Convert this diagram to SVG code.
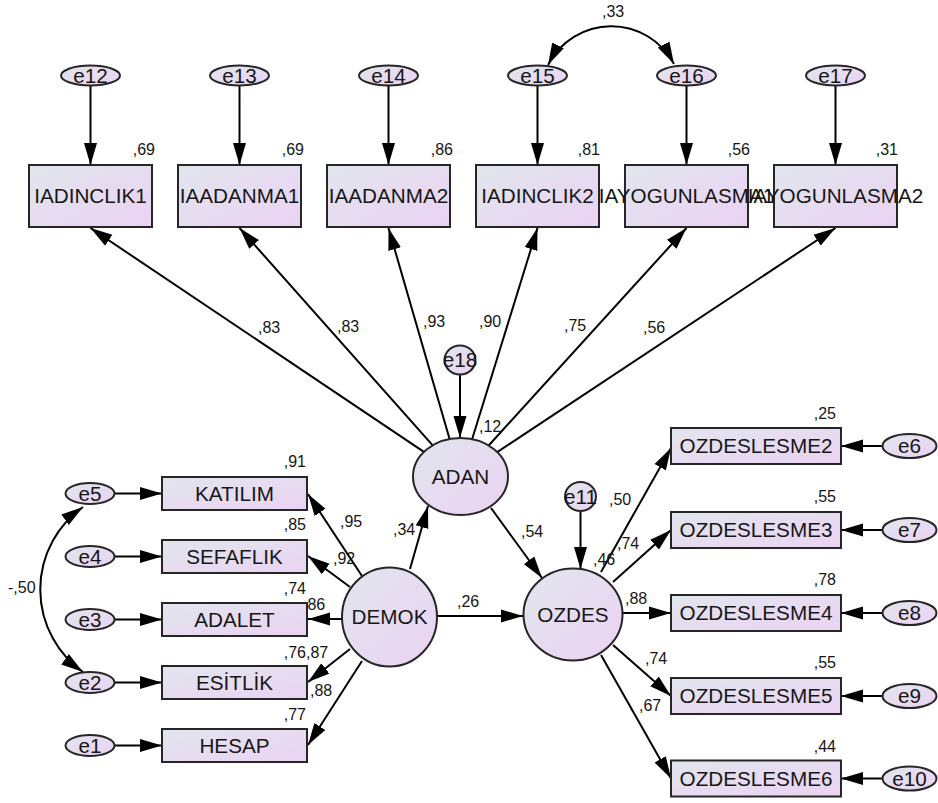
<svg xmlns="http://www.w3.org/2000/svg" width="938" height="803" viewBox="0 0 938 803">
<style>
.n{fill:url(#grad);stroke:#262626;stroke-width:2}
.t{font-family:"Liberation Sans",Arial,sans-serif;font-size:20.7px;fill:#161616;text-anchor:middle}
.l{font-family:"Liberation Sans",Arial,sans-serif;font-size:16px;fill:#161616}
.r{font-family:"Liberation Sans",Arial,sans-serif;font-size:16px;fill:#161616;text-anchor:end}
.c path{fill:none;stroke:#000;stroke-width:2;marker-end:url(#ah)}
.c path.d{marker-start:url(#ah)}
</style>
<defs>
<linearGradient id="grad" x1="0" y1="0" x2="1" y2="1">
<stop offset="0" stop-color="#e1e6ed"/>
<stop offset="1" stop-color="#ebd2f3"/>
</linearGradient>
<marker id="ah" markerUnits="userSpaceOnUse" markerWidth="23" markerHeight="14" refX="22" refY="7" orient="auto-start-reverse" viewBox="0 0 23 14">
<path d="M0,0.5 L22,7 L0,13.5 z" fill="#000"/>
</marker>
</defs>
<rect width="938" height="803" fill="#fff"/>

<g id="connectors" class="c">
<path d="M90.5 86 L90.5 165"/>
<path d="M239.5 86 L239.5 165"/>
<path d="M388.5 86 L388.5 165"/>
<path d="M537.5 86 L537.5 165"/>
<path d="M686.5 86 L686.5 165"/>
<path d="M835.5 86 L835.5 165"/>
<path class="d" d="M548 65 A71 71 0 0 1 674 64"/>
<path d="M423.9 451.9 L90.5 228"/>
<path d="M432.7 445.3 L239.5 228"/>
<path d="M449.6 439 L388.5 228"/>
<path d="M472.1 439.2 L537.5 228"/>
<path d="M488.7 445.5 L686.5 228"/>
<path d="M497.2 452.1 L835.5 228"/>
<path d="M460 375 L460 438"/>
<path d="M114.5 493.5 L162 493.5"/>
<path d="M114.5 556.5 L162 556.5"/>
<path d="M114.5 619.5 L162 619.5"/>
<path d="M114.5 682.5 L162 682.5"/>
<path d="M114.5 745.5 L162 745.5"/>
<path class="d" d="M83 507 A101 101 0 0 0 83 672"/>
<path d="M362 576 L308 494"/>
<path d="M350 587 L308 556"/>
<path d="M342 619 L308 619"/>
<path d="M350 649 L308 682"/>
<path d="M362 661 L308 745"/>
<path d="M410 569 L428 506"/>
<path d="M437 616 L523 616"/>
<path d="M491 508 L542 578"/>
<path d="M580.5 511 L580.5 569"/>
<path d="M601 572 L671 448"/>
<path d="M613 582 L671 530"/>
<path d="M623 613 L671 613"/>
<path d="M613 645 L671 696"/>
<path d="M601 655 L671 778.5"/>
<path d="M882 446 L841 446"/>
<path d="M882 530 L841 530"/>
<path d="M882 613 L841 613"/>
<path d="M882 696 L841 696"/>
<path d="M882 778.5 L841 778.5"/>
</g>

<g id="edge-labels">
<text class="l" x="602" y="17">,33</text>
<text class="l" x="258" y="333">,83</text>
<text class="l" x="337" y="332">,83</text>
<text class="l" x="423" y="327">,93</text>
<text class="l" x="479" y="327">,90</text>
<text class="l" x="564" y="331">,75</text>
<text class="l" x="643" y="333">,56</text>
<text class="l" x="479" y="432">,12</text>
<text class="l" x="340" y="527">,95</text>
<text class="l" x="333" y="564">,92</text>
<text class="l" x="303" y="610">,86</text>
<text class="l" x="306" y="658">,87</text>
<text class="l" x="310" y="696">,88</text>
<text class="l" x="393" y="535">,34</text>
<text class="l" x="457" y="607">,26</text>
<text class="l" x="8" y="593">-,50</text>
<text class="l" x="521" y="537">,54</text>
<text class="l" x="609" y="505">,50</text>
<text class="l" x="617" y="549">,74</text>
<text class="l" x="593" y="565">,46</text>
<text class="l" x="625" y="604">,88</text>
<text class="l" x="645" y="664">,74</text>
<text class="l" x="639" y="711">,67</text>
</g>

<g id="e12"><ellipse class="n" cx="90.5" cy="75.5" rx="29.5" ry="10"/><text class="t" x="90.5" y="82.5">e12</text></g>
<g id="e13"><ellipse class="n" cx="239.5" cy="75.5" rx="29.5" ry="10"/><text class="t" x="239.5" y="82.5">e13</text></g>
<g id="e14"><ellipse class="n" cx="388.5" cy="75.5" rx="29.5" ry="10"/><text class="t" x="388.5" y="82.5">e14</text></g>
<g id="e15"><ellipse class="n" cx="537.5" cy="75.5" rx="29.5" ry="10"/><text class="t" x="537.5" y="82.5">e15</text></g>
<g id="e16"><ellipse class="n" cx="686.5" cy="75.5" rx="29.5" ry="10"/><text class="t" x="686.5" y="82.5">e16</text></g>
<g id="e17"><ellipse class="n" cx="835.5" cy="75.5" rx="29.5" ry="10"/><text class="t" x="835.5" y="82.5">e17</text></g>

<g id="IADINCLIK1"><rect class="n" x="29" y="165" width="123" height="62"/><text class="t" x="90.5" y="203">IADINCLIK1</text><text class="r" x="155" y="155">,69</text></g>
<g id="IAADANMA1"><rect class="n" x="178" y="165" width="123" height="62"/><text class="t" x="239.5" y="203">IAADANMA1</text><text class="r" x="304" y="155">,69</text></g>
<g id="IAADANMA2"><rect class="n" x="327" y="165" width="123" height="62"/><text class="t" x="388.5" y="203">IAADANMA2</text><text class="r" x="453" y="155">,86</text></g>
<g id="IADINCLIK2"><rect class="n" x="476" y="165" width="123" height="62"/><text class="t" x="537.5" y="203">IADINCLIK2</text><text class="r" x="600" y="155">,81</text></g>
<g id="IAYOGUNLASMA1"><rect class="n" x="625" y="165" width="123" height="62"/><text class="t" x="686.5" y="203">IAYOGUNLASMA1</text><text class="r" x="750" y="155">,56</text></g>
<g id="IAYOGUNLASMA2"><rect class="n" x="774" y="165" width="123" height="62"/><text class="t" x="835.5" y="203">IAYOGUNLASMA2</text><text class="r" x="898" y="155">,31</text></g>

<g id="e18"><ellipse class="n" cx="460" cy="360" rx="15.5" ry="14.5"/><text class="t" x="460" y="367">e18</text></g>
<g id="ADAN"><ellipse class="n" cx="460.5" cy="476.5" rx="47.5" ry="38.5"/><text class="t" x="460.5" y="483.5">ADAN</text></g>
<g id="DEMOK"><ellipse class="n" cx="389.5" cy="617" rx="47.5" ry="49.5"/><text class="t" x="389.5" y="624">DEMOK</text></g>
<g id="e11"><ellipse class="n" cx="580.5" cy="496.5" rx="15.5" ry="14.5"/><text class="t" x="580.5" y="503.5">e11</text></g>
<g id="OZDES"><ellipse class="n" cx="573" cy="614.5" rx="49.5" ry="46"/><text class="t" x="573" y="621.5">OZDES</text></g>

<g id="KATILIM"><rect class="n" x="162" y="477" width="145" height="33"/><text class="t" x="234.5" y="500.5">KATILIM</text><text class="r" x="306" y="467">,91</text></g>
<g id="SEFAFLIK"><rect class="n" x="162" y="540" width="145" height="33"/><text class="t" x="234.5" y="563.5">SEFAFLIK</text><text class="r" x="306" y="530">,85</text></g>
<g id="ADALET"><rect class="n" x="162" y="603" width="145" height="33"/><text class="t" x="234.5" y="626.5">ADALET</text><text class="r" x="306" y="594">,74</text></g>
<g id="ESITLIK"><rect class="n" x="162" y="666" width="145" height="33"/><text class="t" x="234.5" y="689.5">ESİTLİK</text><text class="r" x="306" y="658">,76</text></g>
<g id="HESAP"><rect class="n" x="162" y="729" width="145" height="33"/><text class="t" x="234.5" y="752.5">HESAP</text><text class="r" x="306" y="720">,77</text></g>

<g id="e5"><ellipse class="n" cx="90" cy="493.5" rx="24.5" ry="10.5"/><text class="t" x="90" y="500.5">e5</text></g>
<g id="e4"><ellipse class="n" cx="90" cy="556.5" rx="24.5" ry="10.5"/><text class="t" x="90" y="563.5">e4</text></g>
<g id="e3"><ellipse class="n" cx="90" cy="619.5" rx="24.5" ry="10.5"/><text class="t" x="90" y="626.5">e3</text></g>
<g id="e2"><ellipse class="n" cx="90" cy="682.5" rx="24.5" ry="10.5"/><text class="t" x="90" y="689.5">e2</text></g>
<g id="e1"><ellipse class="n" cx="90" cy="745.5" rx="24.5" ry="10.5"/><text class="t" x="90" y="752.5">e1</text></g>

<g id="OZDESLESME2"><rect class="n" x="671" y="428" width="170" height="36"/><text class="t" x="756" y="453">OZDESLESME2</text><text class="r" x="836" y="419">,25</text></g>
<g id="OZDESLESME3"><rect class="n" x="671" y="512" width="170" height="36"/><text class="t" x="756" y="537">OZDESLESME3</text><text class="r" x="836" y="502">,55</text></g>
<g id="OZDESLESME4"><rect class="n" x="671" y="595" width="170" height="36"/><text class="t" x="756" y="620">OZDESLESME4</text><text class="r" x="836" y="585">,78</text></g>
<g id="OZDESLESME5"><rect class="n" x="671" y="678" width="170" height="36"/><text class="t" x="756" y="703">OZDESLESME5</text><text class="r" x="836" y="668">,55</text></g>
<g id="OZDESLESME6"><rect class="n" x="671" y="760.5" width="170" height="36"/><text class="t" x="756" y="785.5">OZDESLESME6</text><text class="r" x="836" y="752">,44</text></g>

<g id="e6"><ellipse class="n" cx="909.5" cy="446" rx="27" ry="12"/><text class="t" x="909.5" y="453">e6</text></g>
<g id="e7"><ellipse class="n" cx="909.5" cy="530" rx="27" ry="12"/><text class="t" x="909.5" y="537">e7</text></g>
<g id="e8"><ellipse class="n" cx="909.5" cy="613" rx="27" ry="12"/><text class="t" x="909.5" y="620">e8</text></g>
<g id="e9"><ellipse class="n" cx="909.5" cy="696" rx="27" ry="12"/><text class="t" x="909.5" y="703">e9</text></g>
<g id="e10"><ellipse class="n" cx="909.5" cy="778.5" rx="27" ry="12"/><text class="t" x="909.5" y="785.5">e10</text></g>
</svg>
